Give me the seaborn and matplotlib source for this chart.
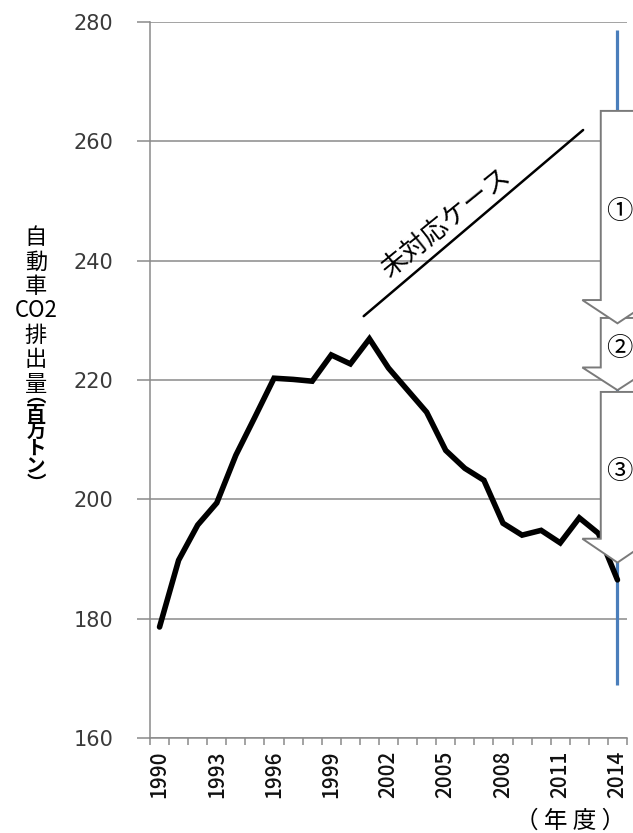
import matplotlib
matplotlib.use("Agg")
import matplotlib.pyplot as plt
from matplotlib.patches import Polygon
from matplotlib.ticker import FixedLocator, MultipleLocator
import pandas as pd
import seaborn as sns

# Vehicle CO2 emissions by fiscal year (million tonnes)
years = list(range(1990, 2015))
emissions = [178.6, 189.8, 195.7, 199.4, 207.4, 213.8, 220.3, 220.1, 219.8, 224.2,
             222.7, 226.9, 222.0, 218.3, 214.6, 208.2, 205.2, 203.2, 196.0, 194.0,
             194.8, 192.7, 196.9, 194.3, 186.5]

tick_years = [1990, 1993, 1996, 1999, 2002, 2005, 2008, 2011, 2014]
y_ticks = [160, 180, 200, 220, 240, 260, 280]

# "no-action" trend line
case_x = [2000.7, 2012.2]
case_y = [230.7, 261.9]
case_label = "未対応ケース"

# reduction steps shown as stacked block arrows at the final year
step_labels = ["①", "②", "③"]
step_top = [265.1, 230.4, 218.0]
step_neck = [233.4, 222.1, 193.4]
step_tip = [229.5, 218.3, 189.4]
step_year = 2014

# vertical marker at the final year
marker_range = [168.9, 278.7]

y_label_main = "自\n動\n車\nCO2\n排\n出\n量"
y_label_unit = "︵\n百\n万\nト\nン\n︶"
x_unit = "（ 年 度 ）"

sns.set_theme(style="white")
plt.rcParams["font.family"] = ["Noto Sans CJK JP", "DejaVu Sans"]

GRID = "#8a8a8a"
fig = plt.figure(figsize=(6.33, 8.33), dpi=100)
ax = fig.add_axes([150 / 633, 1 - 738 / 833, 477 / 633, 716 / 833])

df = pd.DataFrame({"year": years, "co2": emissions})
sns.lineplot(data=df, x="year", y="co2", ax=ax, color="black", linewidth=4.0,
             zorder=3, solid_joinstyle="miter")

ax.plot([step_year, step_year], marker_range, color="#4a7ebb", linewidth=2.3,
        zorder=2.5, solid_capstyle="butt")

ax.plot(case_x, case_y, color="black", linewidth=1.8, zorder=3)
ax.text(2005.0, 246.4, case_label, rotation=39, rotation_mode="anchor",
        ha="center", va="center", fontsize=19, color="black")

shaft_half = 0.875
head_half = 1.84
n_steps = len(step_labels)
for i, (lab, top, neck, tip) in enumerate(zip(step_labels, step_top, step_neck, step_tip)):
    cx = step_year
    pts = [(cx - shaft_half, top), (cx + shaft_half, top), (cx + shaft_half, neck),
           (cx + head_half, neck), (cx, tip), (cx - head_half, neck),
           (cx - shaft_half, neck)]
    z = 5 + (n_steps - i) * 0.1
    ax.add_patch(Polygon(pts, closed=True, facecolor="white", edgecolor="#7a7a7a",
                         linewidth=1.4, zorder=z, clip_on=False, joinstyle="miter"))
    ax.text(cx + 0.1, (top + neck) / 2 - 1.0, lab, ha="center", va="center",
            fontsize=19, color="black", zorder=6, clip_on=False)

ax.set_xlim(1989.5, 2014.5)
ax.set_ylim(160, 280)
ax.xaxis.set_major_locator(FixedLocator(tick_years))
ax.xaxis.set_minor_locator(MultipleLocator(1, offset=0.5))
ax.set_xticks(tick_years)
ax.set_xticklabels([str(y) for y in tick_years], rotation=90, fontsize=15,
                   color="#111111", fontweight="medium")
ax.set_yticks(y_ticks)
ax.set_yticklabels([str(v) for v in y_ticks], fontsize=15, color="#3a3a3a",
                   family="DejaVu Sans")
ax.tick_params(axis="x", which="major", length=0, pad=9)
ax.tick_params(axis="x", which="minor", length=5, width=1.1, color=GRID,
               direction="out", bottom=True)
ax.tick_params(axis="y", which="major", length=9.5, width=1.1, color=GRID,
               direction="out", pad=17, left=True)
ax.set_xlabel("")
ax.set_ylabel("")

ax.yaxis.grid(True, color=GRID, linewidth=1.1, zorder=1)
ax.set_axisbelow(True)
for side in ("top", "right"):
    ax.spines[side].set_visible(False)
for side in ("left", "bottom"):
    ax.spines[side].set_color(GRID)
    ax.spines[side].set_linewidth(1.1)

fig.text(36 / 633, 1 - 226 / 833, y_label_main, ha="center", va="top",
         fontsize=16, linespacing=1.08, color="black")
fig.text(36 / 633, 1 - 387 / 833, y_label_unit, ha="center", va="top",
         fontsize=14, linespacing=0.9, fontweight="bold", color="black")

fig.text(570 / 633, 1 - 821 / 833, x_unit, ha="center", va="center",
         fontsize=17, color="black")

fig.savefig("out.png", dpi=100)
